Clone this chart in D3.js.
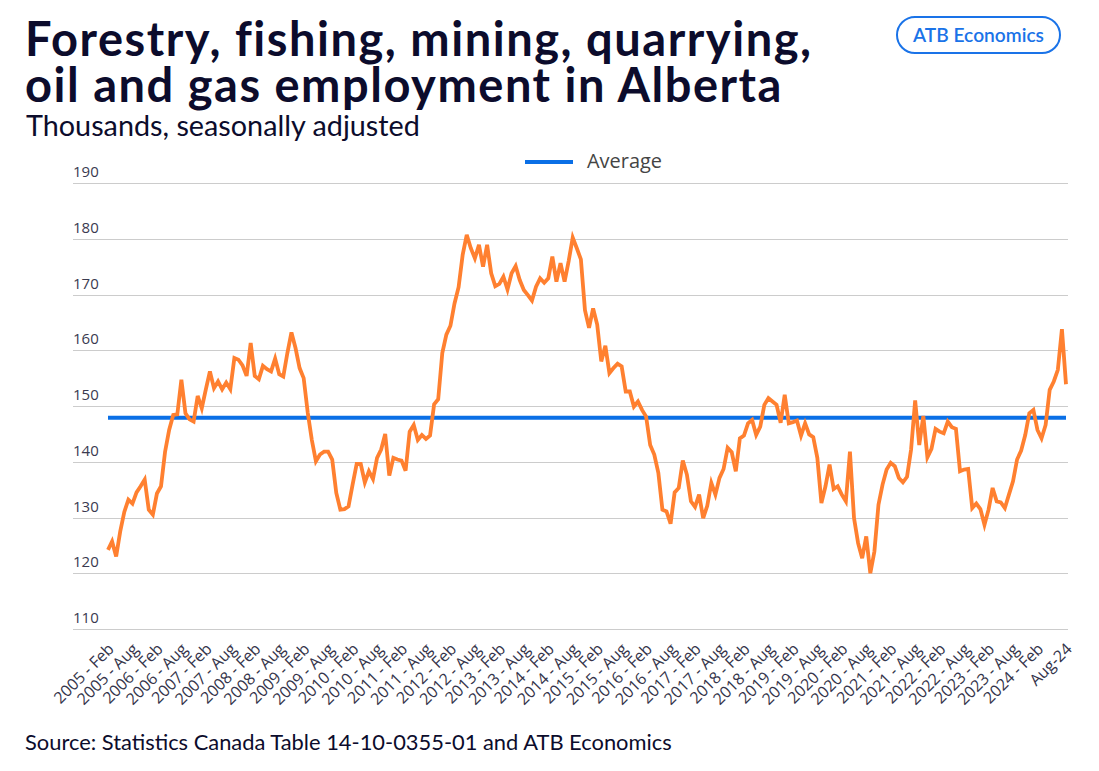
<!DOCTYPE html>
<html><head><meta charset="utf-8">
<script src="https://cdn.jsdelivr.net/npm/d3@7"></script>
<style>body{margin:0;background:#fff;} svg{display:block}</style>
</head><body>
<svg id="chart" width="1099" height="771"></svg>
<script>
// ---- Data (thousands, seasonally adjusted), monthly Feb 2005 .. Aug 2024 ----
const values = [
124.2,125.7,123.0,127.5,131.0,133.2,132.5,134.5,135.6,136.8,131.4,130.5,
134.3,135.6,141.8,145.7,148.4,148.5,154.7,148.7,147.6,147.2,151.8,149.6,
153.0,156.2,153.2,154.4,153.0,154.2,153.0,158.6,158.3,157.3,155.4,161.3,
155.4,154.8,157.2,156.6,156.2,158.5,155.7,155.3,159.5,163.2,160.4,156.8,
155.0,148.8,143.9,140.1,141.3,141.8,141.8,140.4,134.4,131.4,131.5,132.0,
135.9,139.6,139.6,136.3,138.3,136.9,140.7,142.2,145.0,137.5,140.7,140.4,
140.2,138.4,145.4,146.6,143.9,144.8,144.1,144.7,150.3,151.2,159.5,162.8,
164.4,168.4,171.3,177.1,180.7,178.3,176.5,178.9,175.0,178.9,173.8,171.5,
171.9,173.2,170.9,173.8,175.1,172.6,170.8,169.9,168.9,171.4,172.9,172.1,
172.9,176.8,172.3,175.6,172.3,176.0,180.2,178.3,176.3,167.2,164.0,167.5,
164.6,158.0,160.8,155.9,156.8,157.6,157.1,152.6,152.6,149.9,150.8,149.3,
148.1,143.0,141.3,138.0,131.4,131.1,128.9,134.5,135.3,140.2,137.7,132.9,
131.9,134.1,129.9,132.1,136.2,134.1,137.1,138.7,142.5,141.7,138.3,144.2,
144.7,146.9,147.5,144.8,146.3,150.2,151.4,150.8,150.2,147.0,152.0,146.9,
147.1,147.4,144.7,146.9,144.9,144.4,140.7,132.6,135.6,139.5,135.1,135.6,
134.1,132.9,141.8,129.9,125.4,122.7,126.6,120.0,123.9,132.3,135.9,138.6,
139.8,139.2,137.1,136.3,137.3,142.2,151.0,143.0,148.2,140.8,142.3,145.9,
145.4,145.1,147.2,146.2,145.9,138.3,138.6,138.7,131.7,132.5,131.5,128.7,
131.4,135.3,132.9,132.7,131.7,134.1,136.5,140.4,142.0,144.8,148.7,149.3,
145.7,144.2,146.6,152.9,154.4,156.5,163.8,153.9
];
const averageValue = 147.9;
const yTicks = [110,120,130,140,150,160,170,180,190];
const tickLabels = [
"2005 - Feb","2005 - Aug","2006 - Feb","2006 - Aug","2007 - Feb","2007 - Aug",
"2008 - Feb","2008 - Aug","2009 - Feb","2009 - Aug","2010 - Feb","2010 - Aug",
"2011 - Feb","2011 - Aug","2012 - Feb","2012 - Aug","2013 - Feb","2013 - Aug",
"2014 - Feb","2014 - Aug","2015 - Feb","2015 - Aug","2016 - Feb","2016 - Aug",
"2017 - Feb","2017 - Aug","2018 - Feb","2018 - Aug","2019 - Feb","2019 - Aug",
"2020 - Feb","2020 - Aug","2021 - Feb","2021 - Aug","2022 - Feb","2022 - Aug",
"2023 - Feb","2023 - Aug","2024 - Feb","Aug-24"
];
const titleLines = ["Forestry, fishing, mining, quarrying,", "oil and gas employment in Alberta"];
const subtitle = "Thousands, seasonally adjusted";
const source = "Source: Statistics Canada Table 14-10-0355-01 and ATB Economics";
const badgeText = "ATB Economics";
const legendLabel = "Average";

// ---- Layout ----
const svg = d3.select("#chart");
const navy = "#0c0c2c";
const orange = "#ff8030";
const blue = "#0a6fe6";

const x = d3.scaleLinear().domain([0, values.length - 1]).range([108, 1066]);
const y = d3.scaleLinear().domain([110, 190]).range([629, 183]);

function fitText(sel, targetWidth) {
  const node = sel.node();
  const w = node.getComputedTextLength();
  const fs = parseFloat(sel.attr("font-size"));
  sel.attr("font-size", (fs * targetWidth / w).toFixed(2));
}
function fitSpacing(sel, targetWidth) {
  const node = sel.node();
  const w = node.getComputedTextLength();
  const n = sel.text().length;
  sel.attr("letter-spacing", ((targetWidth - w) / n).toFixed(3));
}

// Title
const t1 = svg.append("text").attr("x", 25).attr("y", 56).attr("font-family", "Lato")
  .attr("font-weight", 700).attr("font-size", 47).attr("fill", navy).text(titleLines[0]);
fitSpacing(t1, 787);
const t2 = svg.append("text").attr("x", 25).attr("y", 102).attr("font-family", "Lato")
  .attr("font-weight", 700).attr("font-size", 47).attr("fill", navy).text(titleLines[1]);
fitSpacing(t2, 758);
const st = svg.append("text").attr("x", 26).attr("y", 136).attr("font-family", "Lato")
  .attr("font-size", 24).attr("fill", navy).text(subtitle);
fitText(st, 394);

// Badge
svg.append("rect").attr("x", 897).attr("y", 17).attr("width", 163).attr("height", 36)
  .attr("rx", 18).attr("fill", "#fff").attr("stroke", "#1a73e8").attr("stroke-width", 2);
const bt = svg.append("text").attr("x", 978.5).attr("y", 41.5).attr("text-anchor", "middle")
  .attr("font-family", "Lato").attr("font-weight", 600).attr("font-size", 19)
  .attr("fill", "#1a73e8").text(badgeText);
fitText(bt, 131);

// Legend
svg.append("line").attr("x1", 525).attr("x2", 573).attr("y1", 162).attr("y2", 162)
  .attr("stroke", blue).attr("stroke-width", 4);
const lg = svg.append("text").attr("x", 587).attr("y", 168).attr("font-family", "Open Sans")
  .attr("font-size", 17).attr("fill", "#444").text(legendLabel);
fitText(lg, 75);

// Gridlines + y labels
const grid = svg.append("g");
grid.selectAll("line").data(yTicks).join("line")
  .attr("x1", 73).attr("x2", 1068)
  .attr("y1", d => Math.round(y(d)) + 0.5).attr("y2", d => Math.round(y(d)) + 0.5)
  .attr("stroke", "#cccccc").attr("stroke-width", 1);
grid.selectAll("text").data(yTicks).join("text")
  .attr("x", 73).attr("y", d => y(d) - 6)
  .attr("font-family", "Open Sans").attr("font-size", 15).attr("fill", "#3a3a50")
  .text(d => d);

// X labels
const tickIdx = tickLabels.map((_, k) => k < tickLabels.length - 1 ? k * 6 : values.length - 1);
svg.append("g").selectAll("text").data(tickLabels).join("text")
  .attr("transform", (d, k) => `translate(${x(tickIdx[k]) + 7},${650}) rotate(-45)`)
  .attr("text-anchor", "end")
  .attr("font-family", "Open Sans").attr("font-size", 16).attr("fill", "#34344a")
  .text(d => d);

// Average line
svg.append("line").attr("x1", x(0)).attr("x2", x(values.length - 1))
  .attr("y1", y(averageValue)).attr("y2", y(averageValue))
  .attr("stroke", blue).attr("stroke-width", 4);

// Series line
const line = d3.line().x((d, i) => x(i)).y(d => y(d));
svg.append("path").datum(values).attr("d", line).attr("fill", "none")
  .attr("stroke", orange).attr("stroke-width", 3.8).attr("stroke-linejoin", "miter");

// Source
const src = svg.append("text").attr("x", 25).attr("y", 750).attr("font-family", "Lato")
  .attr("font-size", 19).attr("fill", navy).text(source);
fitText(src, 647);
</script>
</body></html>
